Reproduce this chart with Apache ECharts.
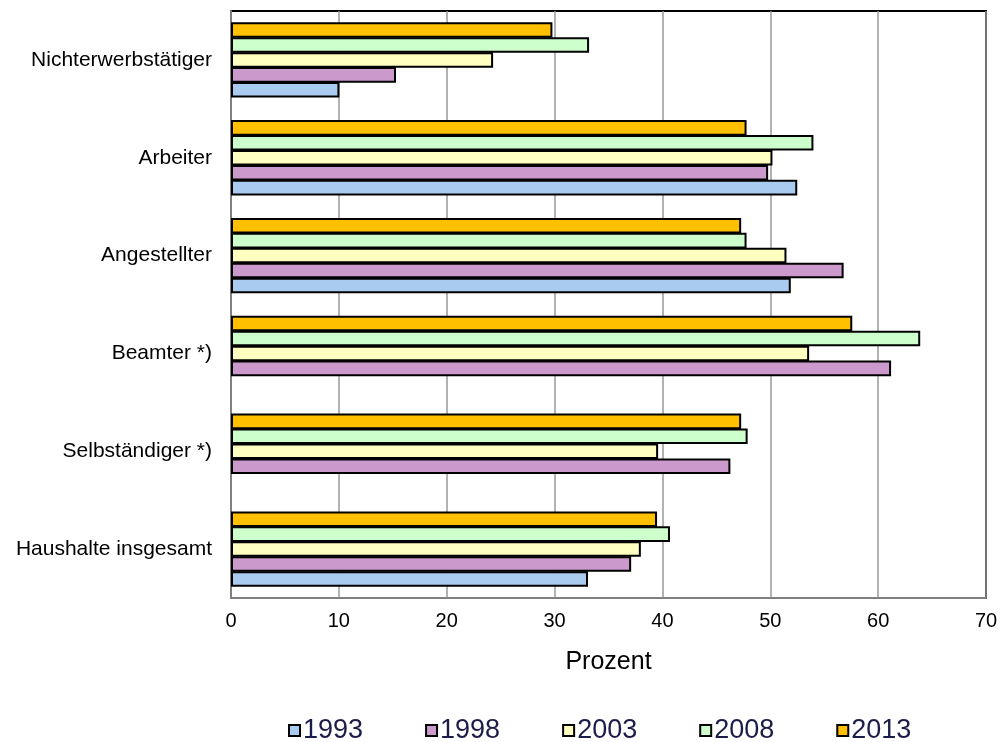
<!DOCTYPE html>
<html>
<head>
<meta charset="utf-8">
<script src="https://cdn.jsdelivr.net/npm/echarts@6/dist/echarts.min.js"></script>
<style>
html,body{margin:0;padding:0;background:#fff;}
#chart{width:1003px;height:742px;}
</style>
</head>
<body>
<div id="chart"></div>
<script>
// categories bottom-to-top
const categories = ['Haushalte insgesamt', 'Selbständiger *)', 'Beamter *)', 'Angestellter', 'Arbeiter', 'Nichterwerbstätiger'];
const years = ['1993', '1998', '2003', '2008', '2013'];
const v1993 = [33.1, null, null, 51.9, 52.5, 10.05];
const v1998 = [37.1, 46.3, 61.2, 56.8, 49.8, 15.3];
const v2003 = [38.0, 39.6, 53.6, 51.5, 50.2, 24.3];
const v2008 = [40.7, 47.9, 63.9, 47.8, 54.0, 33.2];
const v2013 = [39.5, 47.3, 57.6, 47.3, 47.8, 29.8];
const xTicks = [0, 10, 20, 30, 40, 50, 60, 70];
const colors = ['#A9CBEF', '#CC99CC', '#FFFFC0', '#CCFFCC', '#FFC000'];
const seriesValues = [v1993, v1998, v2003, v2008, v2013];

const chart = echarts.init(document.getElementById('chart'));
const sans = "'Liberation Sans', Arial, sans-serif";

// ECharts places the first series at the top of a horizontal group, so add them in reverse
const order = [4, 3, 2, 1, 0];

chart.setOption({
  animation: false,
  backgroundColor: '#fff',
  grid: {
    left: 231, right: 17, top: 11, bottom: 144,
    show: true, borderColor: '#000', borderWidth: 2, backgroundColor: 'transparent'
  },
  legend: {
    data: years,
    top: 712,
    left: 283,
    itemWidth: 11,
    itemHeight: 11,
    itemGap: 62,
    icon: 'rect',
    textStyle: { fontFamily: sans, fontSize: 27, color: '#1c1c48', padding: [0, 0, 0, -2] }
  },
  xAxis: {
    type: 'value',
    min: xTicks[0],
    max: xTicks[xTicks.length - 1],
    interval: 10,
    name: 'Prozent',
    nameLocation: 'middle',
    nameGap: 52,
    nameTextStyle: { fontFamily: sans, fontSize: 25, color: '#000' },
    axisLine: { show: true, lineStyle: { color: '#808080', width: 2 } },
    axisTick: { show: false },
    axisLabel: { fontFamily: sans, fontSize: 20, color: '#000', margin: 13 },
    splitLine: { show: true, lineStyle: { color: '#999', width: 1.5 } }
  },
  yAxis: {
    type: 'category',
    data: categories,
    axisLine: { show: true, lineStyle: { color: '#808080', width: 2 } },
    axisTick: { show: false },
    axisLabel: { fontFamily: sans, fontSize: 21, color: '#000', margin: 19 },
    splitLine: { show: false }
  },
  series: order.map(i => ({
    name: years[i],
    type: 'bar',
    data: seriesValues[i],
    barCategoryGap: '23%',
    barGap: '-4%',
    itemStyle: { color: colors[i], borderColor: '#000', borderWidth: 2 }
  }))
});
</script>
</body>
</html>
